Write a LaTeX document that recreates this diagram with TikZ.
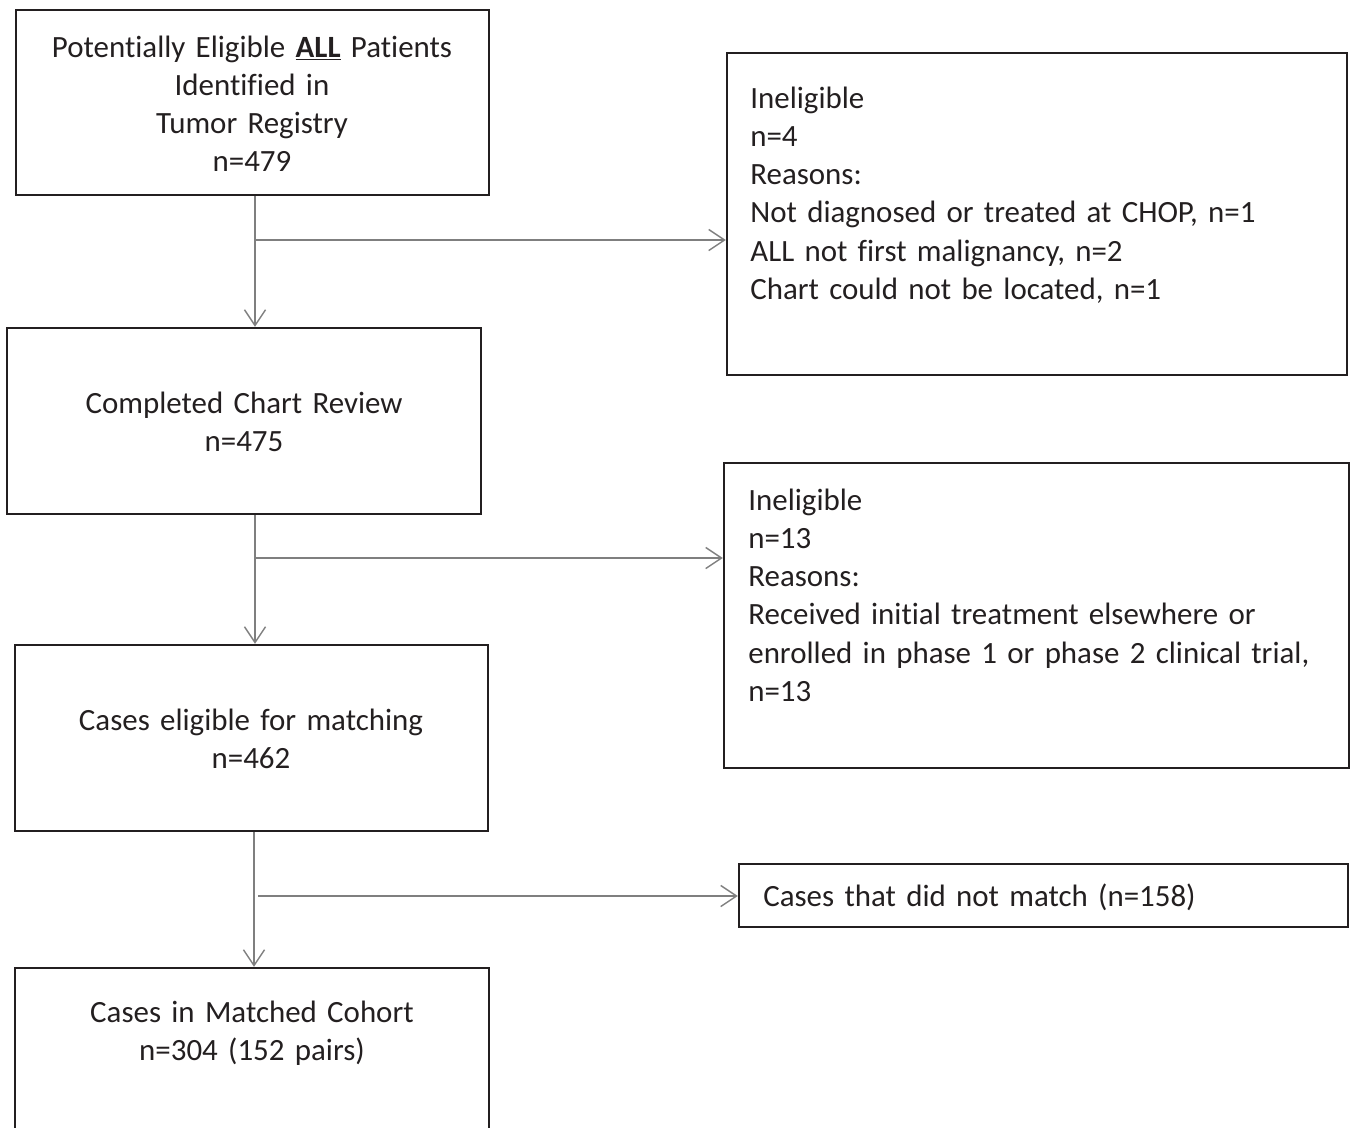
\documentclass[tikz,border=0pt]{standalone}
\usepackage{fontspec}
\setmainfont{Carlito}
\newfontfamily\calib{Carlito}[WordSpace=0.8,Ligatures=NoCommon]
\usetikzlibrary{arrows.meta,fit}

\definecolor{ink}{HTML}{231F20}
\definecolor{wire}{HTML}{7F7F7F}

\begin{document}
\begin{tikzpicture}[x=0.02cm,y=-0.02cm,
  box/.style={draw=ink,line width=1.4pt,inner sep=0pt},
  txt/.style={inner sep=0pt,text=ink,font=\calib\fontsize{17.6pt}{21.8pt}\selectfont},
  mid/.style={txt,anchor=base,text width=9cm,align=center},
  lft/.style={txt,anchor=base west,text width=12cm,align=left},
  arr/.style={draw=wire,line width=0.8pt,-{Straight Barb[length=9pt,width=12pt]}}]
  \useasboundingbox (0,0) rectangle (1355,1127);

  % main column
  \node[box,fit={(16,10) (489,195)}] (b1) {};
  \node[box,fit={(7,328) (481,514)}] (b2) {};
  \node[box,fit={(15,645) (488,831)}] (b3) {};
  \node[box,fit={(15,968) (489,1140)}] (b4) {};

  % side boxes
  \node[box,fit={(727,53) (1347,375)}] (c1) {};
  \node[box,fit={(724,463) (1349,768)}] (c2) {};
  \node[box,fit={(739,864) (1348,927)}] (c3) {};

  \node[mid] (t1) at (252,57) {Potentially Eligible \textbf{\underline{ALL}} Patients\\Identified in\\Tumor Registry\\n=479};
  \node[mid] (t2) at (244,413) {Completed Chart Review\\n=475};
  \node[mid] (t3) at (251,730) {Cases eligible for matching\\n=462};
  \node[mid] (t4) at (252,1022) {Cases in Matched Cohort\\n=304 (152 pairs)};

  \node[lft] (u1) at (750,108) {Ineligible\\n=4\\Reasons:\\Not diagnosed or treated at CHOP, n=1\\ALL not first malignancy, n=2\\Chart could not be located, n=1};
  \node[lft] (u2) at (748,510) {Ineligible\\n=13\\Reasons:\\Received initial treatment elsewhere or\\enrolled in phase 1 or phase 2 clinical trial,\\n=13};
  \node[lft] (u3) at (763,906) {Cases that did not match (n=158)};

  \coordinate (s1) at (255,240);
  \coordinate (s2) at (255,558);
  \coordinate (s3) at (254,896);
  \coordinate (h3) at (258,896);

  \draw[arr] (b1.south -| s1) -- (b2.north -| s1);
  \draw[arr] (b2.south -| s2) -- (b3.north -| s2);
  \draw[arr] (b3.south -| s3) -- (b4.north -| s3);

  \draw[arr] (s1) -- (c1.west |- s1);
  \draw[arr] (s2) -- (c2.west |- s2);
  \draw[arr] (h3) -- (c3.west |- h3);
\end{tikzpicture}
\end{document}
